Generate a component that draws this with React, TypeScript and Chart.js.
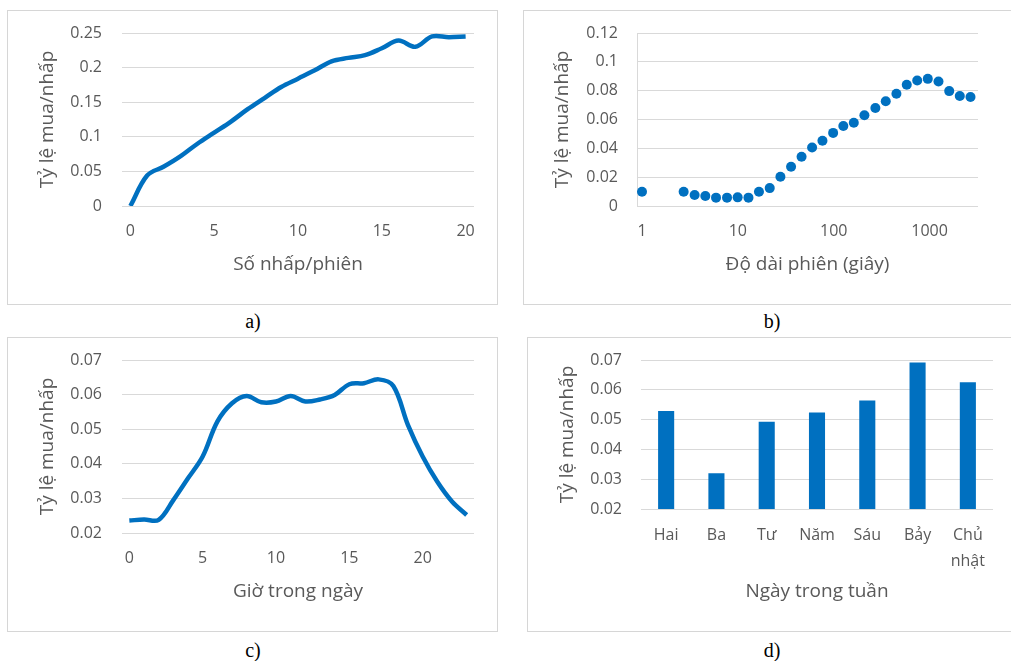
import React, { useEffect, useRef } from "react";
import { Chart, registerables } from "chart.js";

Chart.register(...registerables);

// ---- Data ----
const clicksPerSession = [0, 1, 2, 3, 4, 5, 6, 7, 8, 9, 10, 11, 12, 13, 14, 15, 16, 17, 18, 19, 20];
const rateByClicks = [0, 0.044, 0.057, 0.072, 0.09, 0.106, 0.122, 0.14, 0.156, 0.172, 0.184, 0.196, 0.209, 0.214, 0.218, 0.228, 0.239, 0.23, 0.245, 0.244, 0.245];

const sessionSeconds = [1, 2.72, 3.54, 4.58, 5.92, 7.71, 9.95, 12.9, 16.6, 21.5, 27.8, 35.9, 46.2, 59.5, 76.3, 98.6, 126, 162, 209, 272, 349, 451, 578, 743, 958, 1239, 1603, 2066, 2673];
const rateBySessionLength = [0.0099, 0.0099, 0.0076, 0.0069, 0.0058, 0.0058, 0.006, 0.0058, 0.0099, 0.0124, 0.0203, 0.0272, 0.0341, 0.0406, 0.0452, 0.0507, 0.0555, 0.0578, 0.0629, 0.068, 0.0726, 0.0779, 0.0841, 0.0871, 0.0882, 0.0864, 0.0797, 0.0763, 0.0756];
const sessionTicks = [1, 10, 100, 1000];

const hoursOfDay = [0, 1, 2, 3, 4, 5, 6, 7, 8, 9, 10, 11, 12, 13, 14, 15, 16, 17, 18, 19, 20, 21, 22, 23];
const rateByHour = [0.0236, 0.0239, 0.0238, 0.0295, 0.0358, 0.0421, 0.0522, 0.0575, 0.0596, 0.0578, 0.058, 0.0596, 0.058, 0.0586, 0.0599, 0.063, 0.0633, 0.0644, 0.0625, 0.0512, 0.0421, 0.0348, 0.0291, 0.0252];
const hourTicks = [0, 5, 10, 15, 20];

const weekdays: (string | string[])[] = ["Hai", "Ba", "Tư", "Năm", "Sáu", "Bảy", ["Chủ", "nhật"]];
const rateByWeekday = [0.0529, 0.032, 0.0493, 0.0524, 0.0564, 0.0692, 0.0625];

const clickTicks = [0, 5, 10, 15, 20];

const yTitle = "Tỷ lệ mua/nhấp";

// ---- Styles ----
const FONT = "'Open Sans', sans-serif";
const TEXT = "#595959";
const GRID = "#d9d9d9";
const BLUE = "#0070C0";

const fmt = (v: any) => String(Number(Number(v).toFixed(2)));

type AxisOpts = {
  yMin: number; yMax: number; yStep: number; yWidth: number; yTickPad: number; yTitlePad: number; yBorder: boolean;
  xHeight: number; xTickPad: number; xTickLineHeight: number; xTitle: string; xTitlePad: number;
  padRight: number; padTop: number;
};

function yAxis(o: AxisOpts) {
  return {
    min: o.yMin,
    max: o.yMax,
    ticks: { stepSize: o.yStep, color: TEXT, font: { family: FONT, size: 16 }, padding: 0, callback: fmt },
    grid: { color: GRID, lineWidth: 1, drawTicks: true, tickLength: o.yTickPad, tickColor: "rgba(0,0,0,0)" },
    border: { display: o.yBorder, color: GRID, width: 1 },
    title: { display: true, text: yTitle, color: TEXT, font: { family: FONT, size: 19 }, padding: { top: o.yTitlePad, bottom: 0 } },
    afterFit: (s: any) => { s.width = o.yWidth; },
  };
}

function xCommon(o: AxisOpts) {
  return {
    ticks: { color: TEXT, font: { family: FONT, size: 16, lineHeight: o.xTickLineHeight }, padding: o.xTickPad, maxRotation: 0, autoSkip: false },
    grid: { display: false, drawTicks: false },
    border: { display: false },
    title: { display: true, text: o.xTitle, color: TEXT, font: { family: FONT, size: 19 }, padding: { top: 0, bottom: o.xTitlePad } },
    afterFit: (s: any) => { s.height = o.xHeight; },
  };
}

function baseOptions(o: AxisOpts, x: any) {
  return {
    responsive: false,
    animation: false as const,
    layout: { padding: { left: 0, right: o.padRight, top: o.padTop, bottom: 0 } },
    plugins: { legend: { display: false }, tooltip: { enabled: false } },
    scales: { x, y: yAxis(o) },
  };
}

const commonA: AxisOpts = {
  yMin: 0, yMax: 0.25, yStep: 0.05, yWidth: 115, yTickPad: 20, yTitlePad: 29.6, yBorder: false,
  xHeight: 99, xTickPad: 16, xTickLineHeight: 1.2, xTitle: "Số nhấp/phiên", xTitlePad: 28.6,
  padRight: 24, padTop: 23,
};

function configA(): any {
  const o = commonA;
  return {
    type: "line",
    data: {
      datasets: [{
        data: clicksPerSession.map((x, i) => ({ x, y: rateByClicks[i] })),
        borderColor: BLUE, borderWidth: 4.5, pointRadius: 0, tension: 0.35, fill: false,
      }],
    },
    options: baseOptions(o, {
      type: "linear", min: -0.5, max: 20.5,
      ...xCommon(o),
      afterBuildTicks: (s: any) => { s.ticks = clickTicks.map((v) => ({ value: v })); },
    }),
  };
}

function configB(): any {
  const o: AxisOpts = {
    yMin: 0, yMax: 0.12, yStep: 0.02, yWidth: 114, yTickPad: 19, yTitlePad: 28.6, yBorder: true,
    xHeight: 99, xTickPad: 16, xTickLineHeight: 1.2, xTitle: "Độ dài phiên (giây)", xTitlePad: 28.6,
    padRight: 37, padTop: 23,
  };
  return {
    type: "scatter",
    data: {
      datasets: [{
        data: sessionSeconds.map((x, i) => ({ x, y: rateBySessionLength[i] })),
        backgroundColor: BLUE, borderWidth: 0, pointRadius: 5, showLine: false,
      }],
    },
    options: baseOptions(o, {
      type: "logarithmic", min: 0.887, max: 3200,
      ...xCommon(o),
      ticks: { ...xCommon(o).ticks, callback: (v: any) => String(v) },
      afterBuildTicks: (s: any) => { s.ticks = sessionTicks.map((v) => ({ value: v })); },
    }),
  };
}

function configC(): any {
  const o: AxisOpts = {
    ...commonA, yMin: 0.02, yMax: 0.07, yStep: 0.01, xTitle: "Giờ trong ngày",
  };
  return {
    type: "line",
    data: {
      datasets: [{
        data: hoursOfDay.map((x, i) => ({ x, y: rateByHour[i] })),
        borderColor: BLUE, borderWidth: 4.5, pointRadius: 0, tension: 0.35, fill: false,
      }],
    },
    options: baseOptions(o, {
      type: "linear", min: -0.5, max: 23.5,
      ...xCommon(o),
      afterBuildTicks: (s: any) => { s.ticks = hourTicks.map((v) => ({ value: v })); },
    }),
  };
}

function configD(): any {
  const o: AxisOpts = {
    yMin: 0.02, yMax: 0.07, yStep: 0.01, yWidth: 114, yTickPad: 19, yTitlePad: 29.6, yBorder: false,
    xHeight: 123, xTickPad: 13, xTickLineHeight: 1.625, xTitle: "Ngày trong tuần", xTitlePad: 28.9,
    padRight: 24, padTop: 23,
  };
  return {
    type: "bar",
    data: {
      labels: weekdays,
      datasets: [{
        data: rateByWeekday,
        backgroundColor: BLUE, borderWidth: 0, categoryPercentage: 1, barPercentage: 0.32,
      }],
    },
    options: baseOptions(o, { type: "category", ...xCommon(o) }),
  };
}

type PanelProps = {
  left: number; top: number; width: number; height: number;
  makeConfig: () => any; caption: string; captionX: number; captionY: number;
};

function Panel({ left, top, width, height, makeConfig, caption, captionX, captionY }: PanelProps) {
  const ref = useRef<HTMLCanvasElement | null>(null);
  useEffect(() => {
    if (!ref.current) return;
    const chart = new Chart(ref.current, makeConfig());
    return () => chart.destroy();
  }, []);
  return (
    <>
      <div style={{ position: "absolute", left, top, width, height, boxSizing: "border-box", border: "1px solid #d6d6d6", background: "#fff" }} />
      <canvas ref={ref} width={width} height={height} style={{ position: "absolute", left, top, width, height }} />
      <div style={{ position: "absolute", left: captionX - 40, top: captionY - 12, width: 80, height: 24, lineHeight: "24px", textAlign: "center", fontFamily: "'Liberation Serif', 'Times New Roman', serif", fontSize: 20, color: "#000" }}>
        {caption}
      </div>
    </>
  );
}

export default function App() {
  return (
    <div style={{ position: "fixed", left: 0, top: 0, width: 1011, height: 661, overflow: "hidden", background: "#fff" }}>
      <Panel left={7} top={10} width={491} height={295} makeConfig={configA} caption="a)" captionX={253} captionY={321} />
      <Panel left={523} top={10} width={492} height={295} makeConfig={configB} caption="b)" captionX={772} captionY={321} />
      <Panel left={7} top={337} width={491} height={295} makeConfig={configC} caption="c)" captionX={253} captionY={650} />
      <Panel left={527} top={337} width={490} height={295} makeConfig={configD} caption="d)" captionX={772} captionY={650} />
    </div>
  );
}
